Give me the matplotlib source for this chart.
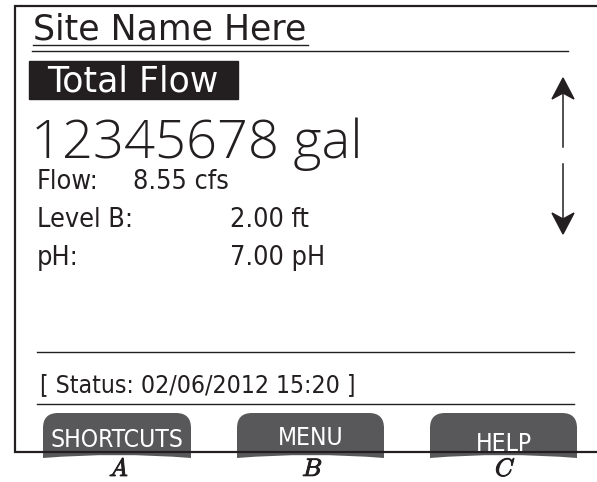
"""Device display mock-up: site readings screen with soft keys."""

import matplotlib.pyplot as plt
import matplotlib.patheffects as pe
from matplotlib import font_manager
from matplotlib.font_manager import FontProperties
from matplotlib.patches import PathPatch, Polygon, Rectangle
from matplotlib.path import Path

# screen content
site_name = "Site Name Here"
main_label = "Total Flow"
main_value = "12345678 gal"
reading_names = ["Flow:", "Level B:", "pH:"]
reading_values = ["8.55 cfs", "2.00 ft", "7.00 pH"]
reading_value_x = [133, 230, 230]
status_text = "[ Status: 02/06/2012 15:20 ]"
button_labels = ["SHORTCUTS", "MENU", "HELP"]
button_keys = ["A", "B", "C"]

INK = "#231f20"
BUTTON = "#58585a"


def condensed_font():
    """Pick an installed condensed sans face, else a narrow-ish regular one."""
    cands = [f for f in font_manager.fontManager.ttflist
             if str(f.stretch) in ("condensed", "semi-condensed", "extra-condensed")
             and f.style == "normal" and f.weight in (400, "normal", "regular")]
    cands.sort(key=lambda f: ("Sans" not in f.name, f.name))
    if cands:
        return FontProperties(fname=cands[0].fname)
    names = {f.name for f in font_manager.fontManager.ttflist}
    for n in ["Liberation Sans Narrow", "Roboto Condensed", "Liberation Sans"]:
        if n in names:
            return FontProperties(family=n)
    return FontProperties(family="DejaVu Sans")


NARROW = condensed_font()
plt.rcParams["mathtext.fontset"] = "cm"

fig = plt.figure(figsize=(5.97, 4.82), dpi=100)
ax = fig.add_axes([0, 0, 1, 1])
ax.set_xlim(0, 597)
ax.set_ylim(482, 0)
ax.axis("off")
renderer = fig.canvas.get_renderer()


def fit_size(label, width, fp):
    """Font size (pt) that makes label span width pixels in font fp."""
    t = ax.text(0, 0, label, fontproperties=fp, fontsize=20)
    w = t.get_window_extent(renderer).width
    t.remove()
    return 20 * width / w


# outer frame (open on the right)
ax.plot([597, 15, 15, 597], [6, 6, 452, 452], color=INK, lw=1.6,
        solid_joinstyle="miter")

# header
ax.text(33, 40, site_name, fontsize=25, family="DejaVu Sans", color=INK,
        va="baseline")
ax.plot([33, 308], [45, 45], color=INK, lw=1.0)
ax.plot([32, 568], [51, 51], color=INK, lw=1.0)

ax.add_patch(Rectangle((29, 61), 209, 38, color=INK))
ax.text(47, 92, main_label, fontsize=25, family="DejaVu Sans", color="white",
        va="baseline")

big = FontProperties(family="Open Sans", weight="light")
ax.text(31, 158, main_value, fontproperties=big,
        fontsize=fit_size(main_value, 331, big), color=INK, va="baseline")

read_size = fit_size("Level B:", 96, NARROW)
for i, (name, value) in enumerate(zip(reading_names, reading_values)):
    y = 189 + i * 38
    ax.text(37, y, name, fontproperties=NARROW, fontsize=read_size,
            color=INK, va="baseline")
    ax.text(reading_value_x[i], y, value, fontproperties=NARROW,
            fontsize=read_size, color=INK, va="baseline")

# scroll arrows
ax.plot([563, 563], [92, 147], color=INK, lw=1.1)
ax.plot([563, 563], [164, 222], color=INK, lw=1.1)
ax.add_patch(Polygon([(563, 78), (552, 99), (563, 93), (574, 99)],
                     closed=True, color=INK))
ax.add_patch(Polygon([(563, 234), (552, 213), (563, 219), (574, 213)],
                     closed=True, color=INK))

# status bar
ax.plot([37, 574], [352, 352], color=INK, lw=1.0)
ax.text(40, 392, status_text, fontproperties=NARROW,
        fontsize=fit_size(status_text, 314, NARROW), color=INK, va="baseline")
ax.plot([37, 574], [404, 404], color=INK, lw=1.0)


def button_path(x0, x1, top, bottom, r=15, sag=3):
    verts = [
        (x0, bottom), (x0, top + r), (x0, top), (x0 + r, top),
        (x1 - r, top), (x1, top), (x1, top + r),
        (x1, bottom), ((x0 + x1) / 2, bottom - 2 * sag), (x0, bottom),
        (x0, bottom),
    ]
    codes = [
        Path.MOVETO, Path.LINETO, Path.CURVE3, Path.CURVE3,
        Path.LINETO, Path.CURVE3, Path.CURVE3,
        Path.LINETO, Path.CURVE3, Path.CURVE3,
        Path.CLOSEPOLY,
    ]
    return Path(verts, codes)


button_x = [(43, 191), (237, 384), (430, 577)]
label_base = [447, 445, 451]
btn_size = fit_size("SHORTCUTS", 133, NARROW)
for (x0, x1), label, key, base in zip(button_x, button_labels, button_keys,
                                      label_base):
    ax.add_patch(PathPatch(button_path(x0, x1, 413, 458), color=BUTTON, lw=0))
    cx = (x0 + x1) / 2
    ax.text(cx, base, label, fontproperties=NARROW, fontsize=btn_size,
            color="white", ha="center", va="baseline")
    ax.text(cx + 2, 476, f"${key}$", fontsize=18, color=INK, ha="center",
            va="baseline",
            path_effects=[pe.withStroke(linewidth=0.7, foreground=INK)])

fig.savefig("out.png", dpi=100)
plt.close(fig)
